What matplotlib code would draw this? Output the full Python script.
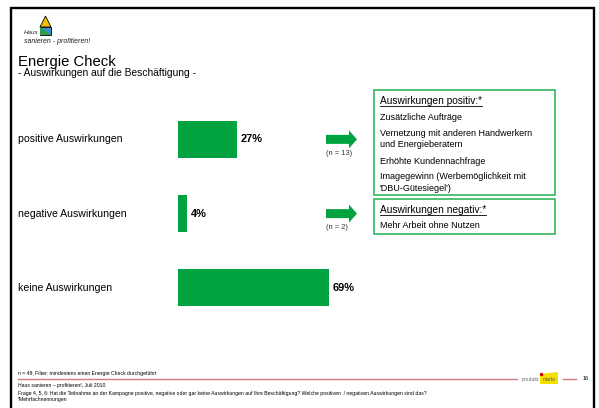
import matplotlib
matplotlib.use("Agg")
from matplotlib import pyplot as plt
from matplotlib import transforms
from matplotlib.patches import Polygon, Rectangle, Circle

plt.rcParams["font.family"] = ["Liberation Sans", "DejaVu Sans"]

# data
categories = ["positive Auswirkungen", "negative Auswirkungen", "keine Auswirkungen"]
shares = [27, 4, 69]
n_labels = ["(n = 13)", "(n = 2)"]

positive_title = "Auswirkungen positiv:*"
positive_items = [
    "Zusätzliche Aufträge",
    "Vernetzung mit anderen Handwerkern\nund Energieberatern",
    "Erhöhte Kundennachfrage",
    "Imagegewinn (Werbemöglichkeit mit\n'DBU-Gütesiegel')",
]
negative_title = "Auswirkungen negativ:*"
negative_items = ["Mehr Arbeit ohne Nutzen"]

green = "#00A33F"
box_green = "#22B04F"
red_line = "#D9777F"

W, H = 599, 408
fig = plt.figure(figsize=(W / 100, H / 100), dpi=100)

# overlay in pixel coordinates
ov = fig.add_axes([0, 0, 1, 1])
ov.set_xlim(0, W)
ov.set_ylim(H, 0)
ov.axis("off")

# slide frame
ov.plot([10.5, 10.5], [7, H], color="black", lw=1.7, solid_capstyle="butt")
ov.plot([10, 595], [7.5, 7.5], color="black", lw=1.7, solid_capstyle="butt")
ov.plot([593.5, 593.5], [7, H], color="black", lw=1.7, solid_capstyle="butt")

# logo
ov.add_patch(Polygon([[40, 27], [45.5, 16], [51, 27]], closed=True,
                     facecolor="#F2C200", edgecolor="black", lw=0.6))
ov.add_patch(Polygon([[40, 27], [51, 27], [51, 35], [40, 35]], closed=True,
                     facecolor="#3A8FD0", edgecolor="black", lw=0.6))
ov.add_patch(Polygon([[40, 27], [51, 35], [40, 35]], closed=True,
                     facecolor="#2E9E4A", edgecolor="none"))
ov.text(24, 32.5, "Haus", fontsize=4.5, style="italic", va="center", color="#222222")
ov.text(24, 41.5, "sanieren - profitieren!", fontsize=5, style="italic",
        va="center", color="#222222")

# title
ov.text(18, 62, "Energie Check", fontsize=10.7, va="center")
ov.text(18, 73.5, "- Auswirkungen auf die Beschäftigung -", fontsize=7.4, va="center")

# bar chart
ax = fig.add_axes([178 / W, 1 - 325 / H, 219 / W, 222.75 / H])
ax.patch.set_alpha(0)
ypos = list(range(len(categories)))
ax.barh(ypos, shares, height=0.5, color=green)
ax.set_xlim(0, 100)
ax.set_ylim(2.5, -0.5)
ax.axis("off")
for y, v in zip(ypos, shares):
    ax.text(v + 1.8, y, f"{v}%", fontsize=7.9, fontweight="bold", va="center")

label_tr = transforms.blended_transform_factory(ov.transData, ax.transData)
for y, c in zip(ypos, categories):
    ax.text(18, y, c, fontsize=7.6, va="center", transform=label_tr)

# arrows to the detail boxes
for y, n in zip(ypos[:2], n_labels):
    yc = ax.transData.transform((0, y))[1]
    yc = ov.transData.inverted().transform((0, yc))[1]
    arrow = [[326, yc - 4.5], [349, yc - 4.5], [349, yc - 9], [357, yc],
             [349, yc + 9], [349, yc + 4.5], [326, yc + 4.5]]
    ov.add_patch(Polygon(arrow, closed=True, facecolor=green, edgecolor="none"))
    ov.text(326.5, yc + 14, n, fontsize=5.4, va="center", color="#333333")

# boxes
ov.add_patch(Rectangle((374, 90), 181, 105, fill=False, edgecolor=box_green, lw=1.1))
ov.add_patch(Rectangle((374, 199), 181, 35, fill=False, edgecolor=box_green, lw=1.1))

renderer = fig.canvas.get_renderer()


def underlined(x, y, s):
    t = ov.text(x, y, s, fontsize=7.3, va="center")
    bb = t.get_window_extent(renderer=renderer)
    x1 = ov.transData.inverted().transform((bb.x1, 0))[0]
    ov.plot([x, x1], [y + 5, y + 5], color="black", lw=0.6)


underlined(380, 101, positive_title)
item_y = [117, 139, 161, 182.5]
for y, s in zip(item_y, positive_items):
    ov.text(380, y, s, fontsize=6.5, va="center", linespacing=1.35)

underlined(380, 210, negative_title)
for s in negative_items:
    ov.text(380, 226, s, fontsize=6.5, va="center")

# footer
ov.text(18, 373, "n = 48; Filter: mindestens einen Energie Check durchgeführt",
        fontsize=3.7, va="center")
ov.plot([18, 517], [378.5, 378.5], color=red_line, lw=1.0)
ov.plot([563, 576], [379, 379], color=red_line, lw=1.0)
ov.text(522, 379.5, "produkt", fontsize=3.7, va="center", color="#666666")
ov.add_patch(Polygon([[540, 374], [558, 372], [558, 384], [540, 384]], closed=True,
                     facecolor="#F5E000", edgecolor="none"))
ov.add_patch(Circle((541.5, 374.5), 1.0, color="#D00000"))
ov.text(543, 379.5, "markt", fontsize=3.7, va="center", color="#555555")
ov.text(583, 379, "16", fontsize=4, va="center")
ov.text(18, 385, "Haus sanieren – profitieren!, Juli 2010", fontsize=3.7, va="center")
ov.text(18, 394,
        "Frage 4, 5, 6: Hat die Teilnahme an der Kampagne positive, negative oder gar keine "
        "Auswirkungen auf Ihre Beschäftigung? Welche positiven  / negativen Auswirkungen sind das?",
        fontsize=3.7, va="center")
ov.text(18, 400, "*Mehrfachnennungen", fontsize=3.7, va="center")

fig.savefig("out.png", dpi=100)
